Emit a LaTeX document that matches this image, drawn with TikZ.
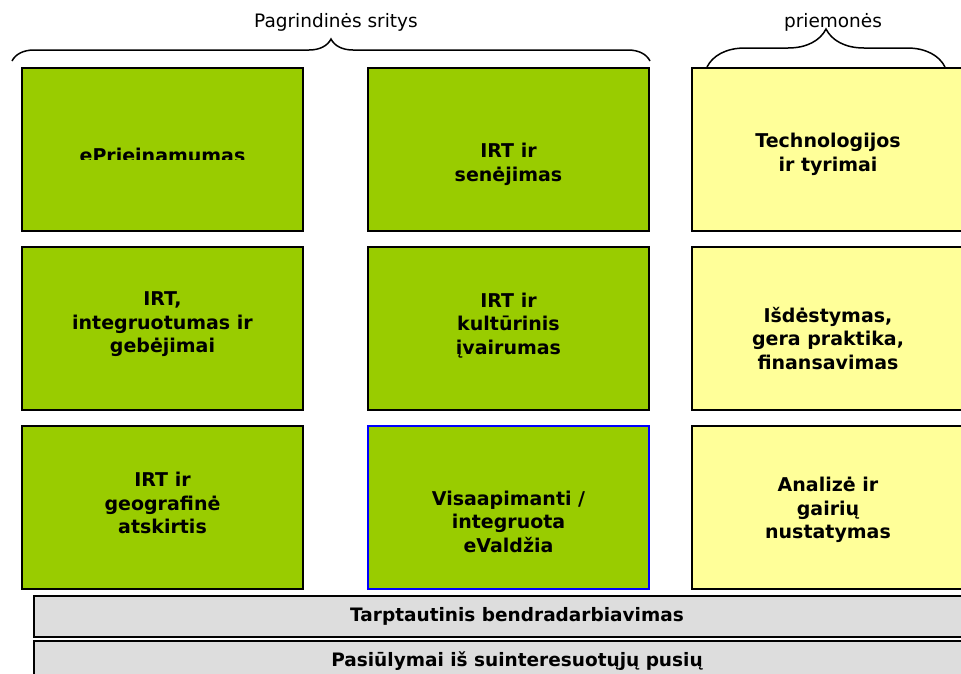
\documentclass[tikz,border=0pt]{standalone}
\usepackage{fontspec}
\setmainfont{DejaVu Sans}
\usetikzlibrary{positioning,decorations.pathreplacing}
\definecolor{areagreen}{HTML}{99CC00}
\definecolor{toolyellow}{HTML}{FFFF99}
\definecolor{bargray}{HTML}{DDDDDD}

\begin{document}
\begin{tikzpicture}[x=1pt,y=-1pt,
    box/.style={draw=black,line width=1.5pt,minimum width=281pt,minimum height=163pt,inner sep=0pt,outer sep=0pt},
    area/.style={box,fill=areagreen},
    tool/.style={box,fill=toolyellow,minimum width=272pt},
    bar/.style={draw=black,line width=1.5pt,fill=bargray,minimum width=966pt,minimum height=41pt,inner sep=0pt,outer sep=0pt,font=\bfseries\fontsize{18.5}{22}\selectfont},
    txt/.style={align=center,font=\bfseries\fontsize{19}{23.5}\selectfont},
    head/.style={font=\fontsize{18.5}{22}\selectfont},
    brace/.style={decorate,decoration={brace,amplitude=#1},line width=1.5pt}]
    \clip (0,0) rectangle (961,673);
    % headings
    \node[head] (areas) at (336,22) {Pagrindinės sritys};
    \node[head] (tools) at (833,22) {priemonės};
    \draw[brace=22pt] (12,61) -- (650,61);
    \draw[brace=38pt] (707,67) -- (945,67);
    % grid of boxes
    \node[area] (a1) at (162.5,149.5) {};
    \node[area,right=65pt of a1] (b1) {};
    \node[tool,right=43pt of b1] (c1) {};
    \node[area,below=16pt of a1] (a2) {};
    \node[area,below=16pt of b1] (b2) {};
    \node[tool,below=16pt of c1] (c2) {};
    \node[area,below=16pt of a2] (a3) {};
    \node[area,draw=blue,below=16pt of b2] (b3) {};
    \node[tool,below=16pt of c2] (c3) {};
    % texts
    \begin{scope}
        \clip (a1.north west) rectangle ([yshift=-9.5pt]a1.east);
        \node[txt,anchor=base] (a1t) at ([yshift=-13pt]a1.center) {ePrieinamumas};
    \end{scope}
    \node[txt] (b1t) at ([yshift=-15pt]b1.center) {IRT ir\\senėjimas};
    \node[txt] (c1t) at ([yshift=-5pt]c1.center) {Technologijos\\ir tyrimai};
    \node[txt] (a2t) at ([yshift=4pt]a2.center) {IRT,\\integruotumas ir\\gebėjimai};
    \node[txt] (b2t) at ([yshift=3pt]b2.center) {IRT ir\\kultūrinis\\įvairumas};
    \node[txt] (c2t) at ([yshift=-10pt]c2.center) {Išdėstymas,\\gera praktika,\\finansavimas};
    \node[txt] (a3t) at ([yshift=4.5pt]a3.center) {IRT ir\\geografinė\\atskirtis};
    \node[txt] (b3t) at ([yshift=-14pt]b3.center) {Visaapimanti /\\integruota\\eValdžia};
    \node[txt] (c3t) at ([yshift=-2.5pt]c3.center) {Analizė ir\\gairių\\nustatymas};
    % bars
    \node[bar] (coop) at (517,616.5) {Tarptautinis bendradarbiavimas};
    \node[bar,below=4pt of coop] (input) {Pasiūlymai iš suinteresuotųjų pusių};
\end{tikzpicture}
\end{document}
